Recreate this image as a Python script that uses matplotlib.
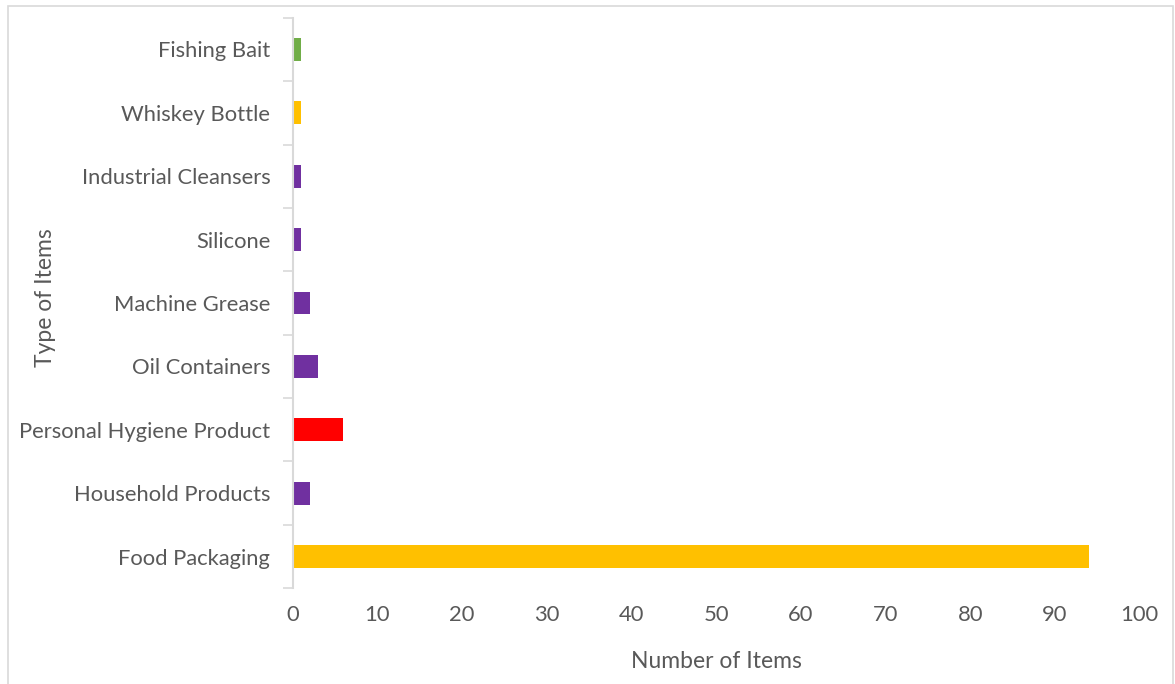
import numpy as np
import matplotlib.pyplot as plt
from matplotlib.patches import Rectangle

# item categories, bottom to top
items = ['Food Packaging', 'Household Products', 'Personal Hygiene Product',
         'Oil Containers', 'Machine Grease', 'Silicone',
         'Industrial Cleansers', 'Whiskey Bottle', 'Fishing Bait']
counts = [94, 2, 6, 3, 2, 1, 1, 1, 1]
colors = ['#FFC000', '#7030A0', '#FF0000', '#7030A0', '#7030A0',
          '#7030A0', '#7030A0', '#FFC000', '#70AD47']

plt.rcParams['font.family'] = ['Lato', 'DejaVu Sans']
txt = '#595959'
grid = '#D9D9D9'

fig = plt.figure(figsize=(11.75, 6.84), dpi=100)
ax = fig.add_axes([0.249, 0.140, 0.721, 0.834])

y = np.arange(len(items))
ax.barh(y, counts, height=0.36, color=colors)

ax.set_xlim(0, 100)
ax.set_ylim(-0.5, len(items) - 0.5)
ax.set_xticks(np.arange(0, 101, 10))
ax.set_yticks(y)
ax.set_yticklabels(items)
ax.set_yticks(np.arange(-0.5, len(items)), minor=True)

ax.tick_params(axis='y', which='major', length=0, pad=16, labelsize=15.8, labelcolor=txt)
ax.tick_params(axis='y', which='minor', length=7, width=1.2, color=grid)
ax.tick_params(axis='x', length=0, pad=12, labelsize=15.8, labelcolor=txt)

for s in ['top', 'right', 'bottom']:
    ax.spines[s].set_visible(False)
ax.spines['left'].set_color(grid)
ax.spines['left'].set_linewidth(1.5)

ax.set_xlabel('Number of Items', fontsize=16.5, color=txt, labelpad=19)
ax.set_ylabel('Type of Items', fontsize=16.5, color=txt)
ax.yaxis.set_label_coords(-0.279, 0.51)

# light frame around the chart area (bottom edge runs off the image)
fig.patches.append(Rectangle((0.0072, -0.01), 0.9915, 1.0005, transform=fig.transFigure,
                             fill=False, edgecolor=grid, linewidth=1.2))

fig.savefig('out.png', dpi=100)
